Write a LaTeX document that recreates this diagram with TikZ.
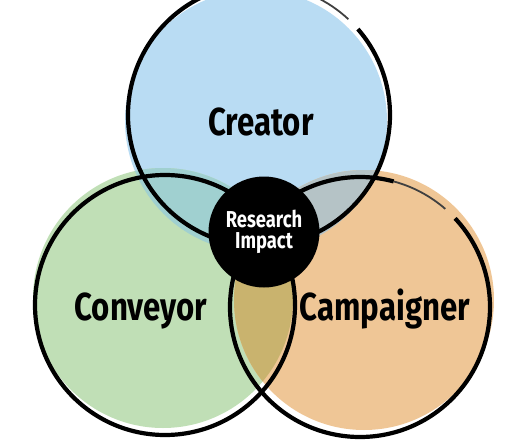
\documentclass[tikz,border=0pt]{standalone}
\usepackage{fontspec}
\newfontfamily\sketchfont{Fira Sans}[FakeStretch=0.8]
\usetikzlibrary{positioning}

\definecolor{creatorfill}{HTML}{B9DCF3}
\definecolor{conveyorfill}{HTML}{C0DFB6}
\definecolor{campaignerfill}{HTML}{EFC696}
\definecolor{creaconv}{HTML}{A0D0D0}
\definecolor{creacamp}{HTML}{B5C3C6}
\definecolor{convcamp}{HTML}{C9B36E}

\tikzstyle{rim} = [line width=4.2pt, black]
\tikzstyle{thinrim} = [line width=1.8pt, black!75]

\begin{document}
\begin{tikzpicture}[
  x=1pt, y=-1pt,
  role/.style={font=\sketchfont\bfseries\fontsize{39}{42}\selectfont, anchor=base},
  hub/.style={circle, fill=black, minimum size=111pt, inner sep=0pt, text=white, align=center, font=\sketchfont\bfseries\fontsize{23}{21}\selectfont}
]
\useasboundingbox (0,0) rectangle (531,442);
\clip (0,0) rectangle (531,442);

% Centres
\coordinate (creator) at (259,115);
\coordinate (conveyor) at (165,305);
\coordinate (campaigner) at (360,307);
\coordinate (crfill) at (256,121);
\coordinate (cvfill) at (163,298);
\coordinate (cpfill) at (364,300);

% Fills
\fill[creatorfill] (crfill) circle[radius=131];
\fill[conveyorfill] (cvfill) circle[radius=130];
\fill[campaignerfill] (cpfill) circle[radius=130];

% Overlaps
\begin{scope}
  \clip (crfill) circle[radius=131];
  \fill[creaconv] (cvfill) circle[radius=130];
  \fill[creacamp] (cpfill) circle[radius=130];
\end{scope}
\begin{scope}
  \clip (cvfill) circle[radius=130];
  \fill[convcamp] (cpfill) circle[radius=130];
\end{scope}

% Outlines
\draw[rim] ([shift={(-41:131)}]creator) arc[start angle=-41, end angle=295, radius=131];
\draw[thinrim] ([shift={(-65:131)}]creator) arc[start angle=-65, end angle=-47, radius=131];
\draw[rim] (conveyor) circle[radius=130];
\draw[rim] ([shift={(-43:130)}]campaigner) arc[start angle=-43, end angle=285, radius=130];
\draw[thinrim] ([shift={(-75:130)}]campaigner) arc[start angle=-75, end angle=-49, radius=130];

% Nodes
\node[hub] (impact) at (264,232) {Research\\Impact};
\node[role] (creatorlabel) at (261,135) {Creator};
\node[role] (conveyorlabel) at (141,320) {Conveyor};
\node[role] (campaignerlabel) at (385,320) {Campaigner};

\end{tikzpicture}
\end{document}
